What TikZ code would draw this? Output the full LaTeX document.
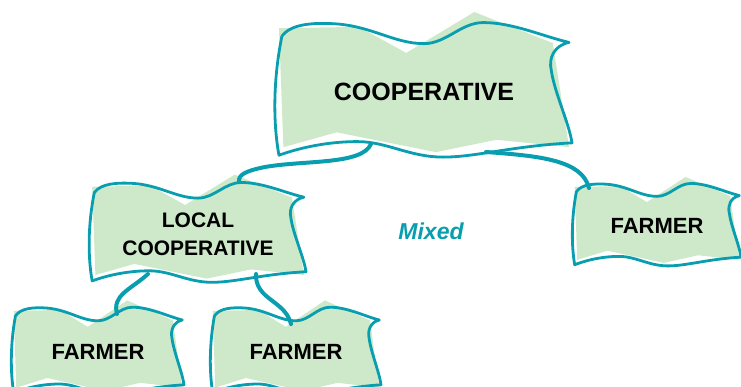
\documentclass[tikz,border=0pt]{standalone}
\usepackage{fontspec}
\setsansfont{Liberation Sans}
\usepackage{tikz}
\usetikzlibrary{backgrounds}
\definecolor{tealline}{RGB}{8,158,175}
\definecolor{leafgreen}{RGB}{205,233,201}
\tikzset{
  tag/.style={font=\sffamily\bfseries\fontsize{22}{28}\selectfont, align=center, inner sep=0pt},
  rim/.style={draw=tealline, line width=2.8pt, line join=round},
  link/.style={draw=tealline, line width=4pt, line cap=round},
}
% wavy paper box round a node: name, half width, half height
\newcommand{\flag}[3]{%
\begin{scope}[shift={(#1.center)},xscale=#2,yscale=-#3]
\fill[leafgreen] (-0.98,1.03) -- (-0.44,1.05) -- (-0.12,0.63) -- (0.34,1.29) -- (0.87,0.79)
  -- (0.98,-0.89) -- (0.49,-0.77) -- (0.08,-0.97) -- (-0.59,-0.65) -- (-0.95,-0.89) -- cycle;
\draw[rim] (-0.96,0.9) .. controls (-0.9,1.1) and (-0.75,1.12) .. (-0.6,1.1)
  .. controls (-0.35,1.06) and (-0.2,0.78) .. (0,0.78)
  .. controls (0.15,0.78) and (0.25,1.12) .. (0.4,1.12)
  .. controls (0.6,1.12) and (0.8,0.9) .. (0.98,0.8)
  .. controls (0.88,0.75) and (0.84,0.55) .. (0.86,0.35)
  .. controls (0.88,0.0) and (0.98,-0.5) .. (1.0,-0.82)
  .. controls (0.6,-0.87) and (0.35,-1.05) .. (0.13,-1.05)
  .. controls (-0.1,-1.05) and (-0.25,-0.8) .. (-0.45,-0.8)
  .. controls (-0.7,-0.8) and (-0.9,-0.95) .. (-0.98,-1.02)
  .. controls (-1.02,-0.5) and (-1.02,0.2) .. (-0.96,0.9) -- cycle;
\end{scope}}

\begin{document}
\begin{tikzpicture}[x=1pt,y=-1pt]
\useasboundingbox (0,0) rectangle (741,386);

\node[tag, font=\sffamily\bfseries\fontsize{25}{30}\selectfont] (coop) at (424,92) {COOPERATIVE};
\node[tag, font=\sffamily\bfseries\fontsize{21}{28}\selectfont] (local) at (198,234) {LOCAL\\COOPERATIVE};
\node[tag] (farmC) at (657,226) {FARMER};
\node[tag] (farmA) at (98,352) {FARMER};
\node[tag] (farmB) at (296,352) {FARMER};
\node[tag, font=\sffamily\bfseries\itshape\fontsize{23}{26}\selectfont, text=tealline] (mix) at (431,231) {Mixed};

\begin{pgfonlayer}{background}
\flag{coop}{148}{62}
\flag{local}{108}{46}
\flag{farmC}{84}{38}
\flag{farmA}{86}{40}
\flag{farmB}{85}{40}
\end{pgfonlayer}

%% links
\draw[link] ([shift={(-53,52)}]coop.center) .. controls (362,165) and (305,160) .. (265,167)
  .. controls (245,171) and (238,175) .. ([shift={(41,-52)}]local.center);
\draw[link] ([shift={(62,60)}]coop.center) .. controls (540,156) and (582,160) .. ([shift={(-68,-38)}]farmC.center);
\draw[link] ([shift={(-50,40)}]local.center) .. controls (130,290) and (112,295) .. ([shift={(19,-38)}]farmA.center);
\draw[link] ([shift={(58,40)}]local.center) .. controls (255,300) and (285,300) .. ([shift={(-5,-28)}]farmB.center);
\end{tikzpicture}
\end{document}
